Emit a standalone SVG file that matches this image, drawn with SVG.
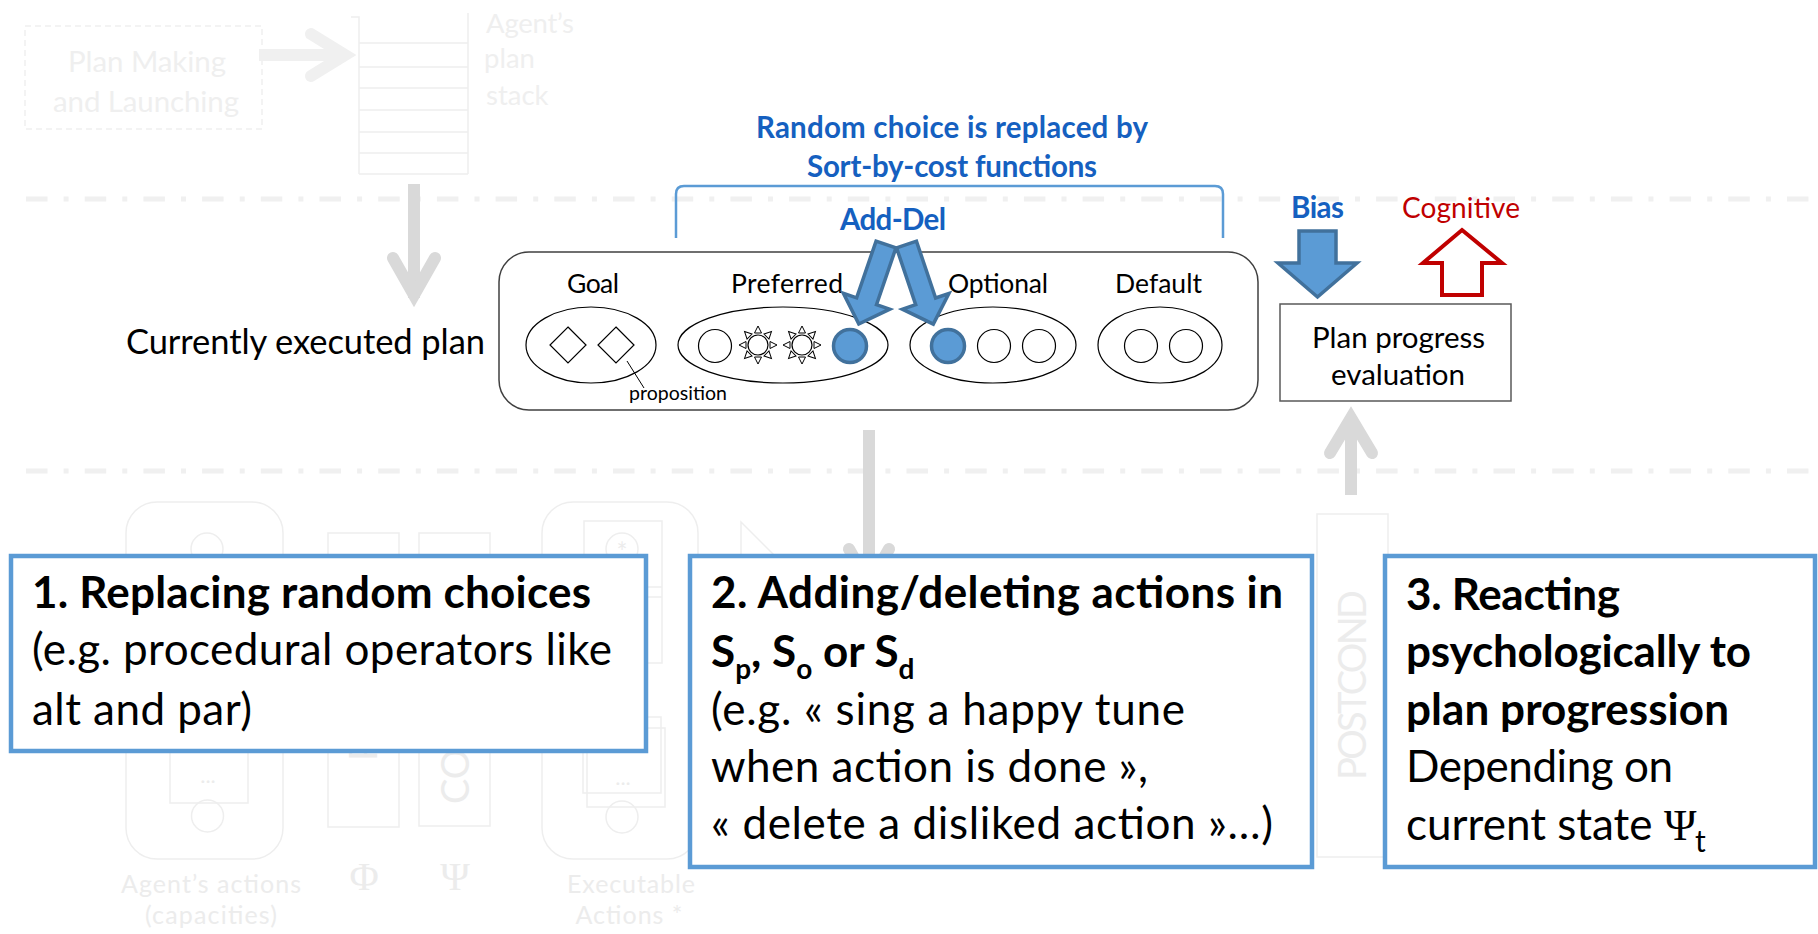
<svg xmlns="http://www.w3.org/2000/svg" width="1818" height="934" viewBox="0 0 1818 934">
<defs>
<style>
text{font-family:Lato,"Open Sans",sans-serif}
.faint{fill:none;stroke:#eeeeee;stroke-width:1.5}
.ftxt{fill:#ececec}
.sep{stroke:#f0f0f0;stroke-width:5;stroke-dasharray:21.5 16.1 5 16.1;fill:none}
.garrow{fill:none;stroke:#d9d9d9;stroke-width:12;stroke-linecap:round;stroke-linejoin:miter}
.gshaft{fill:none;stroke:#d9d9d9;stroke-width:12}
.ell{fill:none;stroke:#000;stroke-width:1.2}
.dot{fill:#fff;stroke:#000;stroke-width:1.2}
.blue{fill:#5b9bd5;stroke:#41719c;stroke-width:3.5}
.box{fill:#fff;stroke:#5b9bd5;stroke-width:4.5}
.bt{font-size:44px;fill:#000}
.b{font-weight:bold}
.lbl{font-size:26.5px;fill:#000;text-anchor:middle}
.bluet{fill:#1560c0;font-weight:bold;font-size:29.5px;text-anchor:middle}
</style>
<path id="ray" d="M0,-19 L3.5,-12 L-3.5,-12 Z" fill="#fff" stroke="#000" stroke-width="1"/>
<g id="sun">
<circle r="10" fill="#fff" stroke="#000" stroke-width="1.2"/>
<use href="#ray"/>
<use href="#ray" transform="rotate(45)"/>
<use href="#ray" transform="rotate(90)"/>
<use href="#ray" transform="rotate(135)"/>
<use href="#ray" transform="rotate(180)"/>
<use href="#ray" transform="rotate(225)"/>
<use href="#ray" transform="rotate(270)"/>
<use href="#ray" transform="rotate(315)"/>
</g>
<path id="addArrow" d="M-10.5,0 L10.5,0 L10.5,60 L24.5,60 L0,84 L-24.5,60 L-10.5,60 Z"/>
</defs>
<rect width="1818" height="934" fill="#fff"/>

<g id="separators">
<line class="sep" x1="26" y1="199" x2="1818" y2="199"/>
<line class="sep" x1="26" y1="471" x2="1818" y2="471"/>
</g>

<g id="faded-top">
<rect x="25" y="26" width="237" height="103" fill="none" stroke="#efefef" stroke-width="1.5" stroke-dasharray="6 4"/>
<text x="147" y="72" font-size="29.5" fill="#efefef" text-anchor="middle" textLength="158">Plan Making</text>
<text x="146" y="112" font-size="29.5" fill="#efefef" text-anchor="middle" textLength="186">and Launching</text>
<g stroke="#eeeeee" stroke-width="1.5" fill="none">
<path d="M351,17 H359 V174 M468,13 V174"/>
<path d="M359,43 H468 M359,67 H468 M359,88 H468 M359,110 H468 M359,132 H468 M359,153 H468 M359,174 H468"/>
</g>
<text x="486" y="33" font-size="27.5" fill="#efefef" textLength="88">Agent’s</text>
<text x="484" y="68" font-size="27.5" fill="#efefef">plan</text>
<text x="486" y="105" font-size="27.5" fill="#efefef">stack</text>
</g>

<g id="faded-bottom">
<rect class="faint" x="126" y="502" width="157" height="357" rx="31"/>
<circle class="faint" cx="207" cy="549" r="16"/>
<rect class="faint" x="170" y="700" width="78" height="103"/>
<text x="208" y="783" font-size="22" class="ftxt" text-anchor="middle">...</text>
<circle class="faint" cx="207.5" cy="816" r="16"/>
<rect class="faint" x="328" y="533" width="71" height="294"/>
<rect class="faint" x="419" y="533" width="71" height="293"/>
<text transform="translate(377,761) rotate(-90)" font-size="38" class="ftxt">P</text>
<text transform="translate(469,804) rotate(-90)" font-size="38" class="ftxt">CO</text>
<text x="364" y="890" font-size="40" class="ftxt" text-anchor="middle" style="font-family:'Liberation Serif',serif">Φ</text>
<text x="455" y="890" font-size="40" class="ftxt" text-anchor="middle" style="font-family:'Liberation Serif',serif">Ψ</text>
<text x="211" y="893" font-size="25" class="ftxt" text-anchor="middle" textLength="180">Agent’s actions</text>
<text x="211" y="924" font-size="25" class="ftxt" text-anchor="middle" textLength="132">(capacities)</text>
<rect class="faint" x="542" y="502" width="156" height="357" rx="31"/>
<rect class="faint" x="584" y="521" width="78" height="142"/>
<path class="faint" d="M584,587 H662 M584,597 H662"/>
<circle class="faint" cx="622" cy="549" r="16"/>
<text x="622" y="562" font-size="26" class="ftxt" text-anchor="middle">*</text>
<rect class="faint" x="587" y="728" width="78" height="79"/>
<rect class="faint" x="583" y="717" width="78" height="76" fill="#fff"/>
<text x="623" y="785" font-size="22" class="ftxt" text-anchor="middle">...</text>
<circle class="faint" cx="622" cy="817" r="16"/>
<text x="631" y="893" font-size="25" class="ftxt" text-anchor="middle" textLength="128">Executable</text>
<text x="629" y="924" font-size="25" class="ftxt" text-anchor="middle" textLength="107">Actions *</text>
<path class="faint" d="M741,600 V522 L800,581"/>
<rect class="faint" x="1317" y="514" width="71" height="343"/>
<text transform="translate(1366,780) rotate(-90)" font-size="38" class="ftxt" textLength="190">POSTCOND</text>
</g>

<g id="connectors">
<path d="M259,55 H340" fill="none" stroke="#f0f0f0" stroke-width="12"/>
<path d="M311,34 L345,55 L311,76" fill="none" stroke="#f0f0f0" stroke-width="12" stroke-linecap="round" stroke-linejoin="miter"/>
<path class="gshaft" d="M414,184 V298"/>
<path class="garrow" d="M393,258 L414,295 L435,258"/>
<path class="gshaft" d="M869,430 V580"/>
<path class="garrow" d="M849,549 L869,585 L889,549"/>
<path class="gshaft" d="M1351,495 V420"/>
<path class="garrow" d="M1330,453 L1351,418 L1372,453"/>
</g>

<g id="title-random">
<text x="952" y="138" class="bluet" textLength="392">Random choice is replaced by</text>
<text x="952" y="177" class="bluet" textLength="290">Sort-by-cost functions</text>
<path d="M676,238 V194 Q676,186 684,186 H1215 Q1223,186 1223,194 V238" fill="none" stroke="#5b9bd5" stroke-width="2.5"/>
</g>

<g id="current-plan-label">
<text x="126" y="354" font-size="34.5" fill="#000" textLength="359">Currently executed plan</text>
</g>

<g id="plan">
<rect x="499" y="252" width="759" height="158" rx="30" fill="#fff" stroke="#404040" stroke-width="1.5"/>
<text x="593" y="293" class="lbl" textLength="52">Goal</text>
<text x="787" y="293" class="lbl" textLength="112">Preferred</text>
<text x="998" y="293" class="lbl" textLength="100">Optional</text>
<text x="1158.5" y="293" class="lbl" textLength="87">Default</text>
<ellipse class="ell" cx="591" cy="345" rx="65" ry="38"/>
<ellipse class="ell" cx="783" cy="345" rx="105" ry="38"/>
<ellipse class="ell" cx="993" cy="345" rx="83" ry="38"/>
<ellipse class="ell" cx="1160" cy="345" rx="62" ry="38"/>
<path class="dot" d="M568,327 L586,345 L568,363 L550,345 Z"/>
<path class="dot" d="M616,327 L634,345 L616,363 L598,345 Z"/>
<path d="M627,361 L644,388" stroke="#000" stroke-width="1" fill="none"/>
<text x="629" y="400" font-size="19.5" fill="#000" textLength="98">proposition</text>
<circle class="dot" cx="715" cy="346" r="16.5"/>
<use href="#sun" x="758" y="345"/>
<use href="#sun" x="802" y="345"/>
<circle class="blue" cx="850" cy="346" r="16.5"/>
<circle class="blue" cx="948" cy="346" r="16.5"/>
<circle class="dot" cx="994" cy="346" r="16.5"/>
<circle class="dot" cx="1039" cy="346" r="16.5"/>
<circle class="dot" cx="1141" cy="346" r="16.5"/>
<circle class="dot" cx="1186" cy="346" r="16.5"/>
</g>

<g id="add-del">
<text x="893" y="230" class="bluet" textLength="106">Add-Del</text>
<use href="#addArrow" class="blue" transform="translate(886,244.5) rotate(18.9)"/>
<use href="#addArrow" class="blue" transform="translate(906.5,244.5) rotate(-18.6)"/>
</g>

<g id="bias">
<text x="1317.5" y="218" class="bluet" textLength="53">Bias</text>
<polygon class="blue" points="1299,231 1336,231 1336,263 1357,263 1317.5,297 1278,263 1299,263"/>
</g>

<g id="cognitive">
<text x="1461" y="218" font-size="28" fill="#c00000" text-anchor="middle" textLength="118">Cognitive</text>
<polygon points="1462,230 1502,263 1482,263 1482,295 1442,295 1442,263 1423,263" fill="#fff" stroke="#c00000" stroke-width="4"/>
</g>

<g id="plan-progress">
<rect x="1280" y="304" width="231" height="97" fill="#fff" stroke="#595959" stroke-width="1.5"/>
<text x="1398.5" y="348" font-size="29.5" fill="#000" text-anchor="middle" textLength="173">Plan progress</text>
<text x="1398" y="385" font-size="29.5" fill="#000" text-anchor="middle" textLength="134">evaluation</text>
</g>

<g id="box1">
<rect class="box" x="11" y="556" width="635" height="195"/>
<text class="bt b" x="32" y="608" textLength="559">1. Replacing random choices</text>
<text class="bt" x="32" y="665" textLength="580">(e.g. procedural operators like</text>
<text class="bt" x="32" y="725" textLength="220">alt and par)</text>
</g>

<g id="box2">
<rect class="box" x="690" y="556" width="622" height="311"/>
<text class="bt b" x="711" y="608" textLength="572">2. Adding/deleting actions in</text>
<text class="bt b" x="711" y="667" font-size="42">S<tspan dy="12" font-size="28">p</tspan><tspan dy="-12">, S</tspan><tspan dy="12" font-size="28">o</tspan><tspan dy="-12"> or S</tspan><tspan dy="12" font-size="28">d</tspan></text>
<text class="bt" x="711" y="725" textLength="474">(e.g. « sing a happy tune</text>
<text class="bt" x="711" y="782" textLength="437">when action is done »,</text>
<text class="bt" x="711" y="839" textLength="562">« delete a disliked action »…)</text>
</g>

<g id="box3">
<rect class="box" x="1385" y="556" width="430" height="311"/>
<text class="bt b" x="1406" y="610" textLength="214">3. Reacting</text>
<text class="bt b" x="1406" y="667" textLength="345">psychologically to</text>
<text class="bt b" x="1406" y="725" textLength="323">plan progression</text>
<text class="bt" x="1406" y="782" textLength="267">Depending on</text>
<text class="bt" x="1406" y="840">current state <tspan x="1664" style="font-family:'Liberation Serif',serif">Ψ</tspan><tspan x="1695" dy="12" font-size="30">t</tspan></text>
</g>
</svg>
